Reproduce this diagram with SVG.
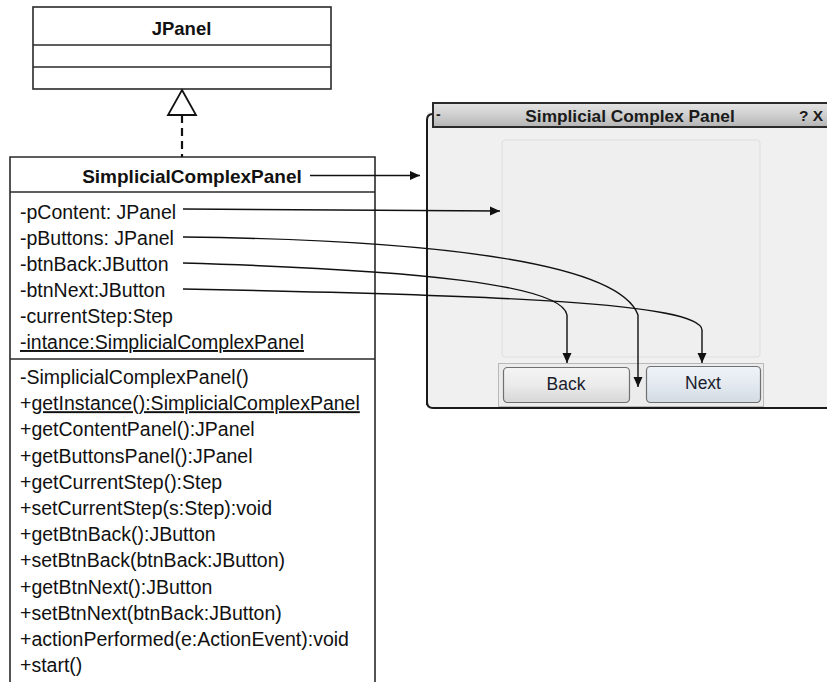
<svg xmlns="http://www.w3.org/2000/svg" width="827" height="682" viewBox="0 0 827 682">
<style>
.box{fill:#fff;stroke:#2a2a2a;stroke-width:1.6}
.sep{stroke:#2a2a2a;stroke-width:1.6}
.t{font-family:"Liberation Sans",Arial,sans-serif;font-size:19.5px;fill:#111}
.tb{font-family:"Liberation Sans",Arial,sans-serif;font-weight:bold;fill:#111}
.conn{fill:none;stroke:#111;stroke-width:1.4}
.ui{font-family:"Liberation Sans",Arial,sans-serif}
</style>
<defs>
<marker id="arr" markerUnits="userSpaceOnUse" markerWidth="10" markerHeight="10" viewBox="0 0 10 10" refX="10" refY="5" orient="auto">
<path d="M0,0.5 L10,5 L0,9.5 Z" fill="#111"/>
</marker>
<linearGradient id="gTitle" x1="0" y1="0" x2="0" y2="1">
<stop offset="0" stop-color="#e4e4e4"/>
<stop offset="0.5" stop-color="#cfcfcf"/>
<stop offset="1" stop-color="#b4b4b4"/>
</linearGradient>
<linearGradient id="gBtn" x1="0" y1="0" x2="0" y2="1">
<stop offset="0" stop-color="#f4f4f4"/>
<stop offset="0.5" stop-color="#ebebeb"/>
<stop offset="1" stop-color="#d6d6d6"/>
</linearGradient>
<linearGradient id="gBtnH" x1="0" y1="0" x2="0" y2="1">
<stop offset="0" stop-color="#eef3f8"/>
<stop offset="0.5" stop-color="#e3e9ef"/>
<stop offset="1" stop-color="#d3dbe3"/>
</linearGradient>
</defs>
<rect width="827" height="682" fill="#fff"/>

<!-- Window mock-up -->
<g id="window">
<rect x="427" y="112" width="400" height="296" fill="#f0f0f0"/>
<path d="M427,405 L427,120 Q427,114 433,114" fill="none" stroke="#1a1a1a" stroke-width="2"/>
<path d="M427,402 Q427,408 433,408 L827,408" fill="none" stroke="#1a1a1a" stroke-width="2"/>
<rect x="433" y="103" width="396" height="24" fill="url(#gTitle)" stroke="#2a2a2a" stroke-width="2"/>
<text class="ui" x="436" y="119" font-size="14" font-weight="bold" fill="#222">-</text>
<text class="ui" x="630" y="121.5" font-size="17.3" font-weight="bold" fill="#1a1a1a" text-anchor="middle">Simplicial Complex Panel</text>
<text class="ui" x="799" y="121" font-size="15.5" font-weight="bold" fill="#1a1a1a">? X</text>
<rect x="502" y="140" width="258" height="217" rx="3" fill="#efefef" stroke="#dedede" stroke-width="1"/>
<rect x="498.5" y="363.5" width="265" height="43" fill="#ececec" stroke="#b8b8b8" stroke-width="1"/>
<g id="btnBack">
<rect x="503.5" y="367.5" width="126" height="35" rx="4" fill="url(#gBtn)" stroke="#707070" stroke-width="1.2"/>
<text class="ui" x="566" y="390" font-size="17.5" fill="#1c1c2c" text-anchor="middle">Back</text>
</g>
<g id="btnNext">
<rect x="646.5" y="366.5" width="114" height="36" rx="4" fill="url(#gBtnH)" stroke="#707070" stroke-width="1.2"/>
<text class="ui" x="703" y="389" font-size="17.5" fill="#1c1c2c" text-anchor="middle">Next</text>
</g>
</g>

<!-- JPanel class -->
<g id="JPanel">
<rect class="box" x="33" y="7" width="298" height="82"/>
<line class="sep" x1="33" y1="45" x2="331" y2="45"/>
<line class="sep" x1="33" y1="67" x2="331" y2="67"/>
<text class="tb" x="181.5" y="35" font-size="18.5" text-anchor="middle">JPanel</text>
</g>

<!-- SimplicialComplexPanel class -->
<g id="SimplicialComplexPanel">
<path class="box" d="M10,684 L10,157 L375,157 L375,684"/>
<line class="sep" x1="10" y1="192" x2="375" y2="192"/>
<line class="sep" x1="10" y1="359" x2="375" y2="359"/>
<text class="tb" x="192" y="183" font-size="19" text-anchor="middle">SimplicialComplexPanel</text>
<text class="t" x="20" y="219">-pContent: JPanel</text>
<text class="t" x="20" y="245">-pButtons: JPanel</text>
<text class="t" x="20" y="271">-btnBack:JButton</text>
<text class="t" x="20" y="297">-btnNext:JButton</text>
<text class="t" x="20" y="323">-currentStep:Step</text>
<text class="t" x="20" y="349" text-decoration="underline">-intance:SimplicialComplexPanel</text>
<text class="t" x="20" y="384">-SimplicialComplexPanel()</text>
<text class="t" x="20" y="410.2">+<tspan text-decoration="underline">getInstance():SimplicialComplexPanel</tspan></text>
<text class="t" x="20" y="436.4">+getContentPanel():JPanel</text>
<text class="t" x="20" y="462.6">+getButtonsPanel():JPanel</text>
<text class="t" x="20" y="488.8">+getCurrentStep():Step</text>
<text class="t" x="20" y="515">+setCurrentStep(s:Step):void</text>
<text class="t" x="20" y="541.2">+getBtnBack():JButton</text>
<text class="t" x="20" y="567.4">+setBtnBack(btnBack:JButton)</text>
<text class="t" x="20" y="593.6">+getBtnNext():JButton</text>
<text class="t" x="20" y="619.8">+setBtnNext(btnBack:JButton)</text>
<text class="t" x="20" y="646">+actionPerformed(e:ActionEvent):void</text>
<text class="t" x="20" y="672.2">+start()</text>
</g>

<!-- Connectors -->
<g id="connectors">
<line x1="182" y1="115" x2="182" y2="157" stroke="#111" stroke-width="2.2" stroke-dasharray="8,5"/>
<path d="M182,90 L196,115 L168,115 Z" fill="#fff" stroke="#111" stroke-width="1.8"/>
<path class="conn" d="M310,175.5 L420,175.5" marker-end="url(#arr)"/>
<path class="conn" d="M183,209 L500,211" marker-end="url(#arr)"/>
<path class="conn" d="M183,237 C450,240 620,265 638,315 L638,387" marker-end="url(#arr)"/>
<path class="conn" d="M183,263 C420,270 562,285 567,315 L567,363" marker-end="url(#arr)"/>
<path class="conn" d="M183,289 C500,295 700,303 702,330 L702,363" marker-end="url(#arr)"/>
</g>
</svg>
